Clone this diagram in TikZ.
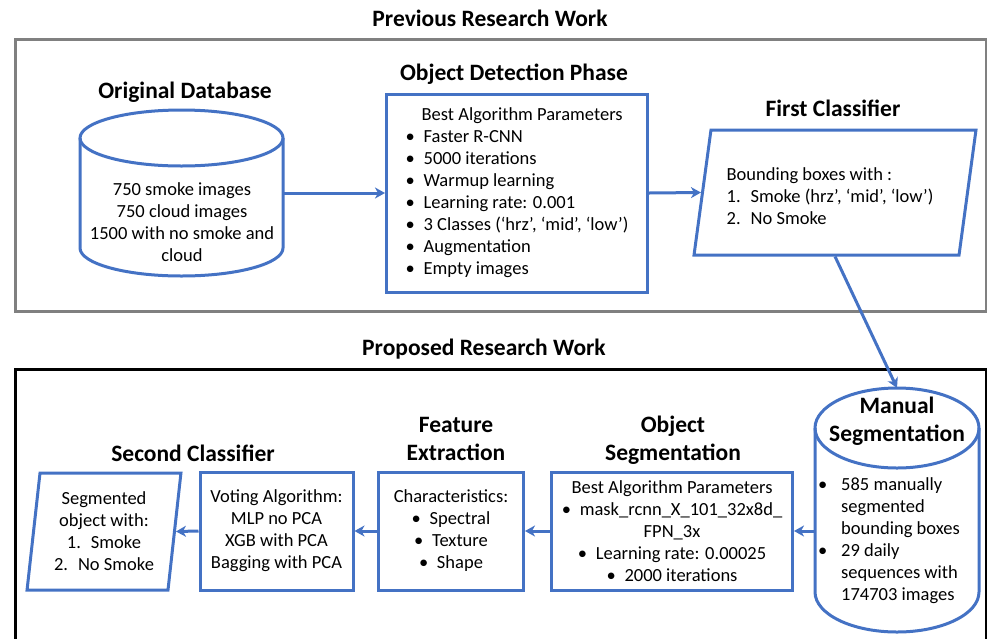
\documentclass[tikz,border=0pt]{standalone}
\usepackage{fontspec}
\setmainfont{Carlito}
\usetikzlibrary{shapes.geometric,arrows.meta}
\definecolor{boxblue}{RGB}{68,114,196}
\definecolor{framegray}{RGB}{128,128,128}
\newcommand{\bul}[1][18pt]{\makebox[#1][l]{\textbullet}}
\tikzset{
  blk/.style={draw=boxblue, line width=3pt, inner sep=0pt},
  hold/.style={inner sep=0pt, outer sep=0pt},
  para/.style={blk, trapezium, trapezium stretches=true},
  head/.style={font=\bfseries\fontsize{23.5}{28}\selectfont, align=center, inner sep=0pt},
  txt/.style={font=\fontsize{18.5}{22}\selectfont, inner sep=0pt},
  flow/.style={draw=boxblue, line width=3pt, -{Stealth[length=10pt,width=11pt,inset=3pt]}},
}
\begin{document}
\begin{tikzpicture}[x=1pt,y=-1pt]
  \useasboundingbox (0,0) rectangle (987,638);
  % the two work areas
  \draw[framegray, line width=3pt] (15,39) rectangle (986,311);
  \draw[black, line width=3pt] (15,645) -- (15,369) -- (986,369) -- (986,645);
  \node[head] (prev) at (490,18) {Previous Research Work};
  \node[head] (prop) at (484,349) {Proposed Research Work};

  % previous work
  \node[hold, minimum width=203pt, minimum height=166pt] (db) at (181.5,193) {};
  \draw[blk] ([yshift=-28pt]db.north west) -- ([yshift=28pt]db.south west)
    arc[start angle=180, end angle=360, x radius=101.5pt, y radius=28pt]
    -- ([yshift=-28pt]db.north east);
  \draw[blk] ([yshift=-28pt]db.north) ellipse[x radius=101.5pt, y radius=28pt];
  \node[txt, align=center] (dbtxt) at (182,222)
    {750 smoke images\\750 cloud images\\1500 with no smoke and\\cloud};
  \node[blk, txt, minimum width=261pt, minimum height=198pt, align=left] (det) at (517,193)
    {\hspace*{16pt}Best Algorithm Parameters\\
     \bul Faster R-CNN\\
     \bul 5000 iterations\\
     \bul Warmup learning\\
     \bul Learning rate: 0.001\\
     \bul 3 Classes (‘hrz’, ‘mid’, ‘low’)\\
     \bul Augmentation\\
     \bul Empty images};
  \node[para, txt, trapezium left angle=77, trapezium right angle=103,
        minimum width=282pt, minimum height=125pt, align=left] (cls1) at (835,192.5)
    {\\[-2pt]Bounding boxes with :\\
     \makebox[24pt][l]{1.}Smoke (hrz’, ‘mid’, ‘low’)\rule{10pt}{0pt}\\
     \makebox[24pt][l]{2.}No Smoke};
  \node[head] (hdb) at (185,92) {Original Database};
  \node[head] (hdet) at (514,74) {Object Detection Phase};
  \node[head] (hcls1) at (833,108) {First Classifier};

  % proposed work
  \node[hold, minimum width=164pt, minimum height=244pt] (mseg) at (897,510) {};
  \draw[blk] ([yshift=-40pt]mseg.north west) -- ([yshift=40pt]mseg.south west)
    arc[start angle=180, end angle=360, x radius=82pt, y radius=40pt]
    -- ([yshift=-40pt]mseg.north east);
  \draw[blk] ([yshift=-40pt]mseg.north) ellipse[x radius=82pt, y radius=40pt];
  \node[head] (hmseg) at (897,421) {Manual\\Segmentation};
  \node[txt, align=left, anchor=west] (msegtxt) at (818,541)
    {\bul[23pt]585 manually\\
     \hspace*{23pt}segmented\\
     \hspace*{23pt}bounding boxes\\
     \bul[23pt]29 daily\\
     \hspace*{23pt}sequences with\\
     \hspace*{23pt}174703 images};
  \node[blk, txt, minimum width=241pt, minimum height=118pt, align=center] (seg) at (672,531)
    {Best Algorithm Parameters\\
     \bul mask\_rcnn\_X\_101\_32x8d\_\\
     FPN\_3x\\
     \bul Learning rate: 0.00025\\
     \bul 2000 iterations};
  \node[blk, txt, minimum width=145pt, minimum height=118pt, align=center] (feat) at (451,531)
    {Characteristics:\\ \bul Spectral\\ \bul Texture\\ \bul Shape};
  \node[blk, txt, minimum width=153pt, minimum height=118pt, align=center] (vote) at (276.5,531)
    {Voting Algorithm:\\MLP no PCA\\XGB with PCA\\Bagging with PCA};
  \node[para, txt, trapezium left angle=82.7, trapezium right angle=97.3,
        minimum width=154pt, minimum height=117pt, align=center] (cls2) at (104,531.5)
    {Segmented\\object with:\\
     \makebox[24pt][l]{1.}Smoke\\
     \makebox[24pt][l]{2.}No Smoke};
  \node[head] (hseg) at (673,440) {Object\\Segmentation};
  \node[head] (hfeat) at (456,439) {Feature\\Extraction};
  \node[head] (hcls2) at (193,453) {Second Classifier};

  % connectors
  \draw[flow] (db.east) -- (det.west);
  \draw[flow] (det.east) -- (cls1.west);
  \draw[flow] (cls1.south) -- (mseg.north);
  \draw[flow] (mseg.west |- seg.east) -- (seg.east);
  \draw[flow] (seg.west) -- (feat.east);
  \draw[flow] (feat.west) -- (vote.east);
  \draw[flow] (vote.west) -- (cls2.east);
\end{tikzpicture}
\end{document}
